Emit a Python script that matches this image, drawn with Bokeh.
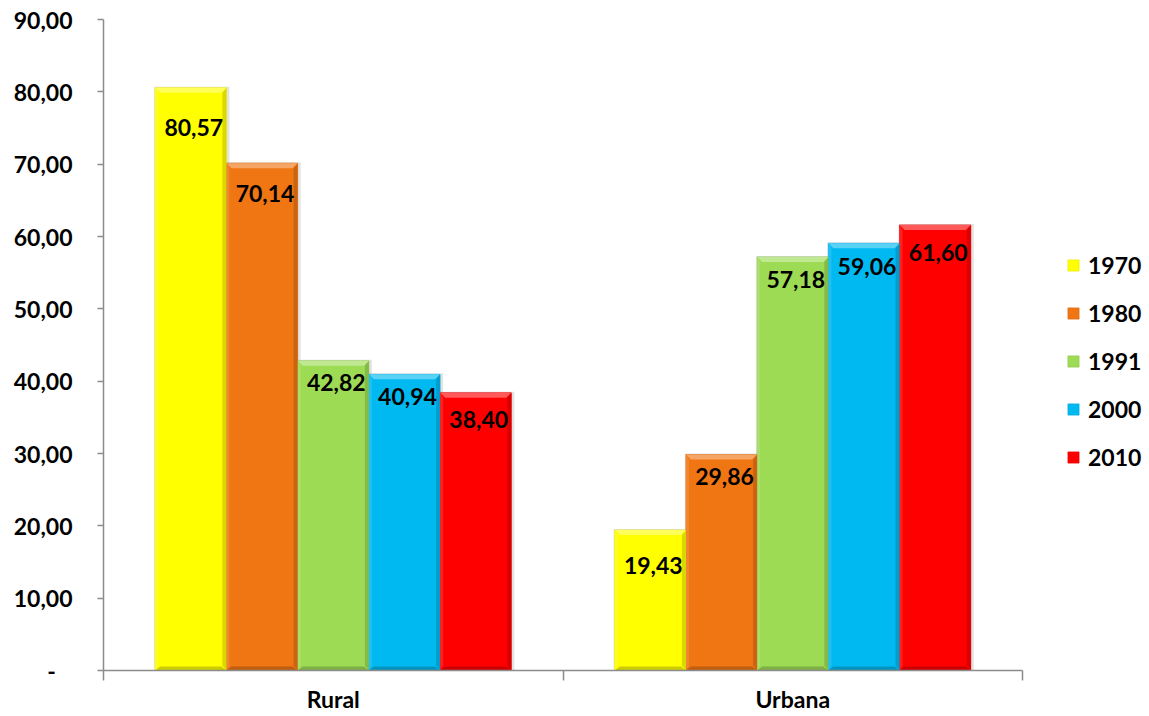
from bokeh.plotting import figure
from bokeh.models import FixedTicker, Legend, LegendItem
from bokeh.core.properties import value
from bokeh.embed import file_html
from bokeh.resources import INLINE

# Population share (%) by area and census year
categories = ["Rural", "Urbana"]
years = ["1970", "1980", "1991", "2000", "2010"]
rural = [80.57, 70.14, 42.82, 40.94, 38.40]
urbana = [19.43, 29.86, 57.18, 59.06, 61.60]
y_ticks = [0, 10, 20, 30, 40, 50, 60, 70, 80, 90]

colors = ["#FFFF00", "#F07513", "#9DDB55", "#00B9F1", "#FF0000"]
# label distance (px) below the top of each bar, per category
label_drop = {"Rural": [40, 30, 22, 22, 27], "Urbana": [36, 22, 23, 23, 28]}

FONT = "Lato"
FS = "23px"
W, H = 1149, 716
BL, BT, BB = 103, 19, 46
AXIS_PX = 919                      # width of the category axis in px
FRAME_W, FRAME_H = W - BL, H - BT - BB
X_END = 2.0 * FRAME_W / AXIS_PX    # extra room on the right holds the legend

p = figure(width=W, height=H, output_backend="svg", toolbar_location=None,
           x_range=(0, X_END), y_range=(0, 90),
           min_border_left=BL, min_border_right=0,
           min_border_top=BT, min_border_bottom=BB)
p.outline_line_color = None
p.grid.visible = False
p.background_fill_color = "white"
p.border_fill_color = "white"

# px -> data unit conversions for the bevel edges
ux = X_END / FRAME_W
uy = 90.0 / FRAME_H
bev_x, bev_y = 5 * ux, 5 * uy


def mix(hexc, other, t):
    hexc = hexc.lstrip("#")
    r, g, b = (int(hexc[i:i + 2], 16) for i in (0, 2, 4))
    o = 255 if other == "white" else 0
    r, g, b = (round(c + (o - c) * t) for c in (r, g, b))
    return "#%02x%02x%02x" % (r, g, b)


group_w = 0.775
bar_w = group_w / len(years)
series = {"Rural": rural, "Urbana": urbana}

shadow = dict(left=[], right=[], top=[], bottom=[])
edges = {k: dict(xs=[], ys=[], c=[]) for k in ("top", "left", "right", "bottom")}
labels = dict(x=[], y=[], text=[], off=[])
faces = []

for i, yr in enumerate(years):
    lefts, rights, tops = [], [], []
    for ci, cat in enumerate(categories):
        v = series[cat][i]
        x0 = ci + 0.5 - group_w / 2 + i * bar_w
        x1 = x0 + bar_w
        lefts.append(x0)
        rights.append(x1)
        tops.append(v)
        shadow["left"].append(x0 - 1 * ux)
        shadow["right"].append(x1 + 3 * ux)
        shadow["top"].append(v + 1 * uy)
        shadow["bottom"].append(0)
        c = colors[i]
        edges["top"]["xs"].append([x0, x1, x1 - bev_x, x0 + bev_x])
        edges["top"]["ys"].append([v, v, v - bev_y, v - bev_y])
        edges["top"]["c"].append(mix(c, "white", 0.35))
        edges["left"]["xs"].append([x0, x0, x0 + bev_x * 0.6, x0 + bev_x * 0.6])
        edges["left"]["ys"].append([0, v, v - bev_y, bev_y])
        edges["left"]["c"].append(mix(c, "white", 0.12))
        edges["right"]["xs"].append([x1, x1, x1 - bev_x * 0.8, x1 - bev_x * 0.8])
        edges["right"]["ys"].append([0, v, v - bev_y, bev_y])
        edges["right"]["c"].append(mix(c, "black", 0.15))
        edges["bottom"]["xs"].append([x0, x1, x1 - bev_x, x0 + bev_x])
        edges["bottom"]["ys"].append([0, 0, bev_y * 0.8, bev_y * 0.8])
        edges["bottom"]["c"].append(mix(c, "black", 0.2))
        labels["x"].append((x0 + x1) / 2)
        labels["y"].append(v)
        labels["text"].append(f"{v:.2f}".replace(".", ","))
        labels["off"].append(label_drop[cat][i])
    faces.append((lefts, rights, tops, i))

p.quad(left=shadow["left"], right=shadow["right"], top=shadow["top"],
       bottom=shadow["bottom"], fill_color="#7f7f7f", fill_alpha=0.22, line_color=None)

face_renderers = []
for lefts, rights, tops, i in faces:
    r = p.quad(left=lefts, right=rights, top=tops, bottom=[0] * len(tops),
               fill_color=colors[i], line_color=mix(colors[i], "black", 0.1),
               line_width=0.6)
    face_renderers.append(r)

for k in ("left", "right", "bottom", "top"):
    p.patches(xs=edges[k]["xs"], ys=edges[k]["ys"], fill_color=edges[k]["c"],
              line_color=None)

p.text(x=labels["x"], y=labels["y"], text=labels["text"], x_offset=3,
       y_offset=labels["off"], text_align="center", text_baseline="middle",
       text_font=value(FONT), text_font_style="bold", text_font_size=FS,
       text_color="black")

# Axes
ax = p.yaxis[0]
ax.ticker = FixedTicker(ticks=y_ticks)
ax.major_label_overrides = {t: ("-\u00a0\u00a0\u00a0" if t == 0 else f"{t:.2f}".replace(".", ","))
                            for t in y_ticks}
ax.major_label_text_font = FONT
ax.major_label_text_font_style = "bold"
ax.major_label_text_font_size = FS
ax.major_label_text_color = "black"
ax.major_label_standoff = 25
ax.major_tick_out = 6
ax.major_tick_in = 0
ax.minor_tick_out = 0
ax.minor_tick_in = 0
ax.axis_line_color = "#8c8c8c"
ax.major_tick_line_color = "#8c8c8c"
ax.axis_line_width = 1.5
ax.major_tick_line_width = 1.5

bx = p.xaxis[0]
bx.bounds = (0, 2)
bx.ticker = FixedTicker(ticks=[0.5, 1.5], minor_ticks=[0, 1, 2])
bx.major_label_overrides = {0.5: categories[0], 1.5: categories[1]}
bx.major_label_text_font = FONT
bx.major_label_text_font_style = "bold"
bx.major_label_text_font_size = FS
bx.major_label_text_color = "black"
bx.major_label_standoff = 4
bx.major_tick_out = 0
bx.major_tick_in = 0
bx.minor_tick_out = 10
bx.minor_tick_in = 0
bx.axis_line_color = "#8c8c8c"
bx.minor_tick_line_color = "#8c8c8c"
bx.axis_line_width = 1.5
bx.minor_tick_line_width = 1.5

legend = Legend(items=[LegendItem(label=yr, renderers=[face_renderers[i]])
                       for i, yr in enumerate(years)],
                location=(953, 189), glyph_width=14, glyph_height=14,
                label_height=28, label_standoff=8, spacing=20, padding=10,
                margin=0, border_line_alpha=0, background_fill_alpha=0,
                label_text_font=FONT, label_text_font_style="bold",
                label_text_font_size=FS, label_text_color="black")
p.add_layout(legend)

open("out.html", "w").write(file_html(p, INLINE))
